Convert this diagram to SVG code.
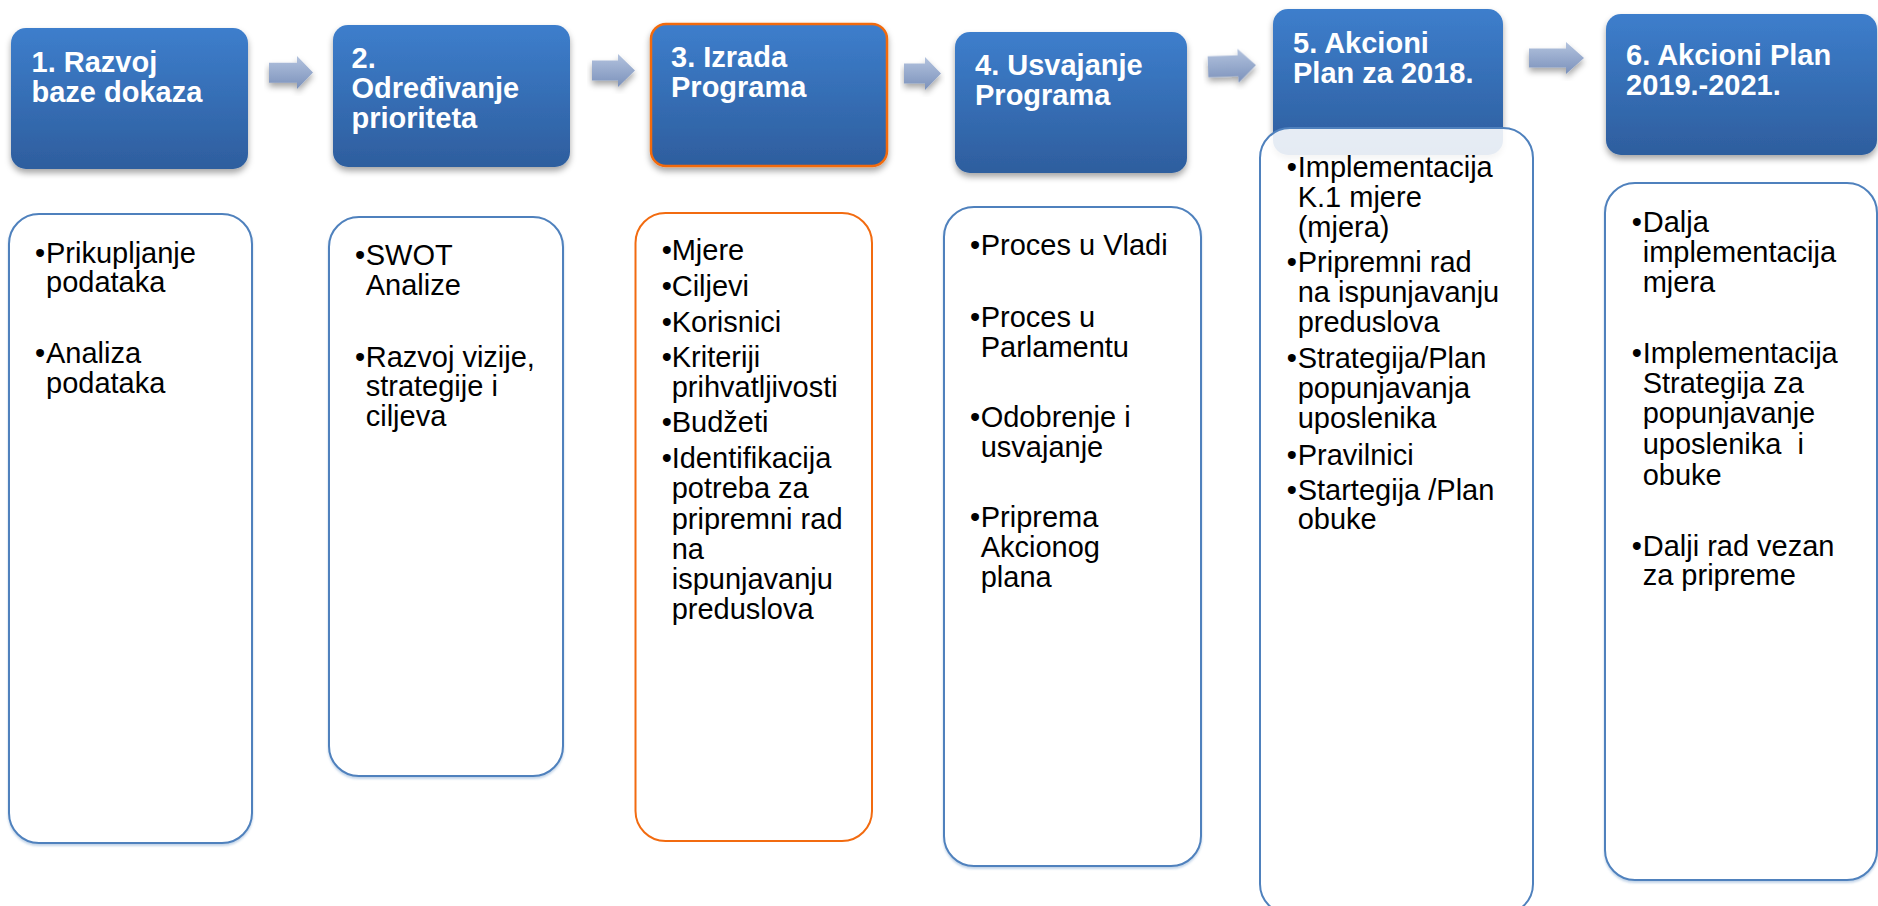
<svg xmlns="http://www.w3.org/2000/svg" width="1878" height="906" viewBox="0 0 1878 906">
<defs>
<linearGradient id="hg" x1="0" y1="0" x2="0" y2="1">
<stop offset="0" stop-color="#3d7ecc"/>
<stop offset="1" stop-color="#2e5e9e"/>
</linearGradient>
<linearGradient id="ag" x1="0" y1="0" x2="0" y2="1">
<stop offset="0" stop-color="#b3c3de"/>
<stop offset="1" stop-color="#7b91bb"/>
</linearGradient>
<filter id="sh" x="-10%" y="-10%" width="120%" height="130%">
<feDropShadow dx="0" dy="4" stdDeviation="3" flood-color="#000" flood-opacity="0.35"/>
</filter>
<filter id="sh2" x="-10%" y="-10%" width="120%" height="120%">
<feDropShadow dx="0" dy="2" stdDeviation="1" flood-color="#4f81bd" flood-opacity="0.35"/>
</filter>
</defs>
<style>
.hdr{fill:url(#hg);filter:url(#sh)}
.hdr3{fill:url(#hg);stroke:#f26b10;stroke-width:2.5;filter:url(#sh)}
.ht{font-family:"Liberation Sans",Arial,sans-serif;font-size:29px;font-weight:bold;fill:#fff}
.cb{fill:#fff;stroke:#4f81bd;stroke-width:2;filter:url(#sh2)}
.cb5{fill:#fff;fill-opacity:0.88;stroke:#4f81bd;stroke-width:2}
.cbo{fill:#fff;stroke:#f26b10;stroke-width:2}
.ct{font-family:"Liberation Sans",Arial,sans-serif;font-size:29px;fill:#000}
.bl{font-family:"Liberation Sans",Arial,sans-serif;font-size:29px;fill:#000}
.arr{fill:url(#ag);filter:url(#sh)}
</style>

<g id="connectors">
<path class="arr" d="M269,62.7 H297 V56 L313,72.5 L297,89 V82.7 H269 Z"/>
<path class="arr" d="M592,60.5 H618 V54 L635,70.5 L618,87 V80.5 H592 Z"/>
<path class="arr" d="M904,63.5 H925 V57 L941,73.5 L925,90 V83.5 H904 Z"/>
<path class="arr" d="M1208,55.5 H1238 V49 L1256,66 L1238,83 V76.5 H1208 Z" transform="rotate(-2 1232 66)"/>
<path class="arr" d="M1529,48.5 H1566 V42 L1584,58 L1566,74 V67.5 H1529 Z"/>
</g>

<g id="stage1">
<rect class="hdr" x="11" y="28" width="237" height="141" rx="15"/>
<text class="ht" x="31.5" y="71.7">1. Razvoj</text>
<text class="ht" x="31.5" y="101.7">baze dokaza</text>
<rect class="cb" x="9" y="214" width="243" height="629" rx="30"/>
<text class="bl" x="35" y="262.7">•</text>
<text class="ct" x="46" y="262.7">Prikupljanje</text>
<text class="ct" x="46" y="292">podataka</text>
<text class="bl" x="35" y="362.7">•</text>
<text class="ct" x="46" y="362.7">Analiza</text>
<text class="ct" x="46" y="392.5">podataka</text>
</g>

<g id="stage2">
<rect class="hdr" x="333" y="25" width="237" height="142" rx="15"/>
<text class="ht" x="351.5" y="68">2.</text>
<text class="ht" x="351.5" y="98">Određivanje</text>
<text class="ht" x="351.5" y="128">prioriteta</text>
<rect class="cb" x="329" y="217" width="234" height="559" rx="30"/>
<text class="bl" x="355" y="265">•</text>
<text class="ct" x="365.7" y="265">SWOT</text>
<text class="ct" x="365.7" y="294.5">Analize</text>
<text class="bl" x="355" y="366.7">•</text>
<text class="ct" x="365.7" y="366.7">Razvoj vizije,</text>
<text class="ct" x="365.7" y="396">strategije i</text>
<text class="ct" x="365.7" y="425.5">ciljeva</text>
</g>

<g id="stage3">
<rect class="hdr3" x="651" y="24" width="236" height="142" rx="15"/>
<text class="ht" x="671" y="66.7">3. Izrada</text>
<text class="ht" x="671" y="96.7">Programa</text>
<rect class="cbo" x="635.5" y="213" width="236.5" height="628" rx="30"/>
<text class="bl" x="661.7" y="260">•</text>
<text class="ct" x="671.7" y="260">Mjere</text>
<text class="bl" x="661.7" y="296">•</text>
<text class="ct" x="671.7" y="296">Ciljevi</text>
<text class="bl" x="661.7" y="331.5">•</text>
<text class="ct" x="671.7" y="331.5">Korisnici</text>
<text class="bl" x="661.7" y="366.7">•</text>
<text class="ct" x="671.7" y="366.7">Kriteriji</text>
<text class="ct" x="671.7" y="396.7">prihvatljivosti</text>
<text class="bl" x="661.7" y="431.7">•</text>
<text class="ct" x="671.7" y="431.7">Budžeti</text>
<text class="bl" x="661.7" y="467.5">•</text>
<text class="ct" x="671.7" y="467.5">Identifikacija</text>
<text class="ct" x="671.7" y="498">potreba za</text>
<text class="ct" x="671.7" y="528.5">pripremni rad</text>
<text class="ct" x="671.7" y="559">na</text>
<text class="ct" x="671.7" y="589">ispunjavanju</text>
<text class="ct" x="671.7" y="619">preduslova</text>
</g>

<g id="stage4">
<rect class="hdr" x="955" y="32" width="232" height="141" rx="15"/>
<text class="ht" x="975" y="75">4. Usvajanje</text>
<text class="ht" x="975" y="105">Programa</text>
<rect class="cb" x="944" y="207" width="257" height="659" rx="30"/>
<text class="bl" x="970" y="255">•</text>
<text class="ct" x="980.7" y="255">Proces u Vladi</text>
<text class="bl" x="970" y="326.7">•</text>
<text class="ct" x="980.7" y="326.7">Proces u</text>
<text class="ct" x="980.7" y="356.5">Parlamentu</text>
<text class="bl" x="970" y="426.7">•</text>
<text class="ct" x="980.7" y="426.7">Odobrenje i</text>
<text class="ct" x="980.7" y="456.7">usvajanje</text>
<text class="bl" x="970" y="527.3">•</text>
<text class="ct" x="980.7" y="527.3">Priprema</text>
<text class="ct" x="980.7" y="557.3">Akcionog</text>
<text class="ct" x="980.7" y="587">plana</text>
</g>

<g id="stage5">
<rect class="hdr" x="1273" y="9" width="230" height="146" rx="15"/>
<text class="ht" x="1293" y="53">5. Akcioni</text>
<text class="ht" x="1293" y="83">Plan za 2018.</text>
<rect class="cb5" x="1260" y="128" width="273" height="786" rx="30"/>
<text class="bl" x="1286.7" y="176.7">•</text>
<text class="ct" x="1297.7" y="176.7">Implementacija</text>
<text class="ct" x="1297.7" y="207">K.1 mjere</text>
<text class="ct" x="1297.7" y="236.7">(mjera)</text>
<text class="bl" x="1286.7" y="271.7">•</text>
<text class="ct" x="1297.7" y="271.7">Pripremni rad</text>
<text class="ct" x="1297.7" y="302">na ispunjavanju</text>
<text class="ct" x="1297.7" y="331.7">preduslova</text>
<text class="bl" x="1286.7" y="368.3">•</text>
<text class="ct" x="1297.7" y="368.3">Strategija/Plan</text>
<text class="ct" x="1297.7" y="398.3">popunjavanja</text>
<text class="ct" x="1297.7" y="428.3">uposlenika</text>
<text class="bl" x="1286.7" y="465">•</text>
<text class="ct" x="1297.7" y="465">Pravilnici</text>
<text class="bl" x="1286.7" y="500">•</text>
<text class="ct" x="1297.7" y="500">Startegija /Plan</text>
<text class="ct" x="1297.7" y="529.3">obuke</text>
</g>

<g id="stage6">
<rect class="hdr" x="1606" y="14" width="271" height="141" rx="15"/>
<text class="ht" x="1626" y="65">6. Akcioni Plan</text>
<text class="ht" x="1626" y="95">2019.-2021.</text>
<rect class="cb" x="1605" y="183" width="272" height="697" rx="30"/>
<text class="bl" x="1631.7" y="231.7">•</text>
<text class="ct" x="1642.7" y="231.7">Dalja</text>
<text class="ct" x="1642.7" y="261.7">implementacija</text>
<text class="ct" x="1642.7" y="291.7">mjera</text>
<text class="bl" x="1631.7" y="363.3">•</text>
<text class="ct" x="1642.7" y="363.3">Implementacija</text>
<text class="ct" x="1642.7" y="393.3">Strategija za</text>
<text class="ct" x="1642.7" y="423.3">popunjavanje</text>
<text class="ct" x="1642.7" y="454" xml:space="preserve">uposlenika  i</text>
<text class="ct" x="1642.7" y="484.5">obuke</text>
<text class="bl" x="1631.7" y="556">•</text>
<text class="ct" x="1642.7" y="556">Dalji rad vezan</text>
<text class="ct" x="1642.7" y="585">za pripreme</text>
</g>
</svg>
